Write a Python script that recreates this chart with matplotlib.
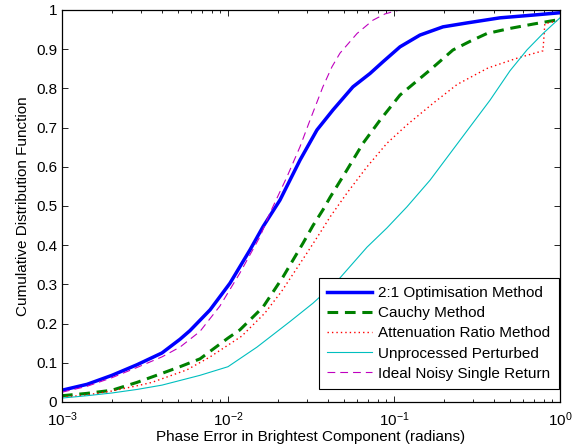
import matplotlib
matplotlib.use("Agg")
import matplotlib.pyplot as plt
from matplotlib.ticker import FuncFormatter, LogLocator, NullFormatter

plt.rcParams['font.family'] = ['Liberation Sans', 'DejaVu Sans']

# CDF curves: phase error (radians) vs cumulative fraction
opt_x = [0.001, 0.001415, 0.002, 0.00283, 0.004, 0.00514, 0.0059, 0.0078, 0.01028, 0.01357,
         0.01625, 0.02056, 0.02715, 0.03436, 0.0429, 0.0566, 0.0717, 0.0859, 0.1087, 0.1434,
         0.1973, 0.2754, 0.435, 0.6877, 1.0]
opt_y = [0.03, 0.045, 0.068, 0.095, 0.125, 0.16, 0.182, 0.235, 0.303, 0.388,
         0.447, 0.515, 0.617, 0.694, 0.745, 0.804, 0.838, 0.868, 0.906, 0.936,
         0.957, 0.967, 0.98, 0.987, 0.993]

cauchy_x = [0.001, 0.001415, 0.002, 0.00283, 0.004, 0.00514, 0.00678, 0.01, 0.0118, 0.01625,
            0.02145, 0.0283, 0.0325, 0.0373, 0.0412, 0.0521, 0.0651, 0.0824, 0.1087, 0.165,
            0.2266, 0.287, 0.363, 0.5, 0.688, 1.0]
cauchy_y = [0.016, 0.022, 0.03, 0.05, 0.073, 0.09, 0.11, 0.163, 0.184, 0.242,
            0.319, 0.405, 0.45, 0.49, 0.522, 0.592, 0.66, 0.719, 0.783, 0.847,
            0.898, 0.92, 0.94, 0.953, 0.964, 0.976]

atten_x = [0.001, 0.001415, 0.002, 0.00295, 0.00348, 0.00566, 0.0078, 0.01, 0.0121, 0.0167,
           0.0211, 0.0299, 0.0358, 0.0412, 0.0521, 0.0688, 0.0907, 0.1198, 0.172, 0.240,
           0.368, 0.551, 0.79, 0.80, 0.81, 0.96]
atten_y = [0.012, 0.018, 0.028, 0.043, 0.05, 0.082, 0.115, 0.145, 0.168, 0.227,
           0.283, 0.38, 0.431, 0.472, 0.533, 0.60, 0.66, 0.707, 0.762, 0.81,
           0.852, 0.877, 0.896, 0.93, 0.965, 0.972]

raw_x = [0.001, 0.001415, 0.002, 0.00283, 0.004, 0.00678, 0.01, 0.01495, 0.0236, 0.0325,
         0.0454, 0.0688, 0.0907, 0.1198, 0.165, 0.25, 0.379, 0.5, 0.632, 0.79, 1.0]
raw_y = [0.01, 0.016, 0.023, 0.032, 0.043, 0.068, 0.09, 0.14, 0.205, 0.252,
         0.308, 0.395, 0.444, 0.498, 0.566, 0.668, 0.77, 0.845, 0.898, 0.94, 0.98]

ideal_x = [0.001, 0.001415, 0.002, 0.00283, 0.004, 0.00514, 0.00678, 0.00895, 0.0118, 0.0156,
           0.0179, 0.0227, 0.02715, 0.0312, 0.0373, 0.0423, 0.0473, 0.0599, 0.0747, 0.0883,
           0.1014, 0.1087, 1.0]
ideal_y = [0.025, 0.04, 0.062, 0.088, 0.115, 0.14, 0.18, 0.245, 0.329, 0.422,
           0.482, 0.575, 0.651, 0.719, 0.804, 0.855, 0.89, 0.94, 0.974, 0.99,
           0.997, 1.0, 1.0]

labels = ['2:1 Optimisation Method', 'Cauchy Method', 'Attenuation Ratio Method',
          'Unprocessed Perturbed', 'Ideal Noisy Single Return']

fig = plt.figure(figsize=(5.76, 4.48), dpi=100)
ax = fig.add_axes([0.1076, 0.1027, 0.8646, 0.875])

ax.plot(opt_x, opt_y, color='#0000ff', lw=2.5, label=labels[0])
ax.plot(cauchy_x, cauchy_y, color='#008000', lw=2.2, dashes=(3.5, 2.2), label=labels[1])
ax.plot(atten_x, atten_y, color='#ff0000', lw=1.0, linestyle=(0, (1, 2.2)), label=labels[2])
ax.plot(raw_x, raw_y, color='#00bfbf', lw=0.8, label=labels[3])
ax.plot(ideal_x, ideal_y, color='#bf00bf', lw=0.8, dashes=(7, 4.5), label=labels[4])

ax.set_xscale('log')
ax.set_xlim(1e-3, 1)
ax.set_ylim(0, 1)
ax.set_yticks([i / 10 for i in range(11)])
ax.yaxis.set_major_formatter(FuncFormatter(lambda v, p: '%g' % round(v, 1)))
ax.xaxis.set_minor_locator(LogLocator(base=10, subs=range(2, 10)))
ax.xaxis.set_minor_formatter(NullFormatter())

ax.tick_params(which='both', direction='in', top=True, right=True, labelsize=11, colors='black')
ax.tick_params(which='major', length=4, width=0.6)
ax.tick_params(which='minor', length=2.2, width=0.6)
ax.tick_params(axis='x', which='major', pad=6)
for s in ax.spines.values():
    s.set_linewidth(0.9)

ax.set_xlabel('Phase Error in Brightest Component (radians)', fontsize=11, labelpad=1)
ax.set_ylabel('Cumulative Distribution Function', fontsize=11, labelpad=4)

leg = ax.legend(loc='lower right', bbox_to_anchor=(0.998, 0.033), fontsize=11,
                frameon=True, fancybox=False, edgecolor='black', framealpha=1,
                handlelength=2.95, handletextpad=0.4, borderpad=0.55, labelspacing=0.4,
                borderaxespad=0)
leg.get_frame().set_linewidth(0.8)

fig.savefig('out.png', dpi=100)
